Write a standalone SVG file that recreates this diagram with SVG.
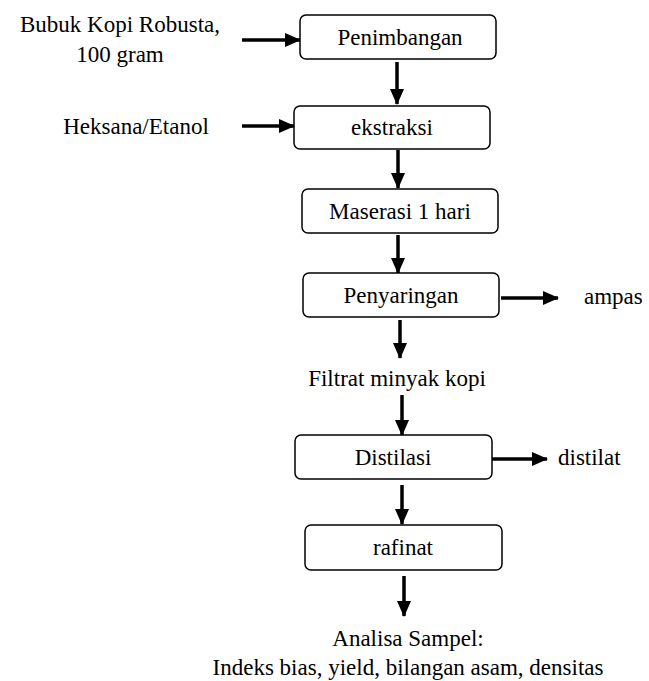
<svg xmlns="http://www.w3.org/2000/svg" width="649" height="681" viewBox="0 0 649 681" font-family="Liberation Serif, Times New Roman, serif">
<style>
.box{fill:#fff;stroke:#000;stroke-width:1.5}
text{font-family:"Liberation Serif","Times New Roman",serif;font-size:23px;fill:#000}
.m{text-anchor:middle}
.c{stroke:#000;stroke-width:3.5;fill:none;marker-end:url(#ah)}
</style>
<defs>
<marker id="ah" markerUnits="userSpaceOnUse" markerWidth="16" markerHeight="16" viewBox="0 0 16 16" refX="15" refY="8" orient="auto">
<path d="M0,1 L16,8 L0,15 Z" fill="#000"/>
</marker>
</defs>
<g id="connectors">
<line class="c" x1="242" y1="40" x2="300" y2="40"/>
<line class="c" x1="242" y1="126" x2="294" y2="126"/>
<line class="c" x1="397" y1="62" x2="397" y2="104"/>
<line class="c" x1="398" y1="150" x2="398" y2="188"/>
<line class="c" x1="398" y1="235" x2="398" y2="273"/>
<line class="c" x1="501" y1="298" x2="558" y2="298"/>
<line class="c" x1="400" y1="320" x2="400" y2="358"/>
<line class="c" x1="402" y1="395" x2="402" y2="435"/>
<line class="c" x1="488" y1="459" x2="547" y2="459"/>
<line class="c" x1="402" y1="485" x2="402" y2="524"/>
<line class="c" x1="404" y1="576" x2="404" y2="616"/>
</g>
<g id="input1"><text class="m" x="120" y="32" font-family="Liberation Serif">Bubuk Kopi Robusta,</text><text class="m" x="120" y="62" font-family="Liberation Serif">100 gram</text></g>
<g id="input2"><text class="m" x="136" y="134" font-family="Liberation Serif">Heksana/Etanol</text></g>
<g id="penimbangan"><rect class="box" x="300" y="15" width="196" height="44" rx="6"/><text class="m" x="400" y="45" font-family="Liberation Serif">Penimbangan</text></g>
<g id="ekstraksi"><rect class="box" x="294" y="106" width="196" height="43" rx="6"/><text class="m" x="392" y="135" font-family="Liberation Serif">ekstraksi</text></g>
<g id="maserasi"><rect class="box" x="302" y="189" width="196" height="44" rx="6"/><text class="m" x="400" y="219" font-family="Liberation Serif">Maserasi 1 hari</text></g>
<g id="penyaringan"><rect class="box" x="303" y="273" width="196" height="44" rx="6"/><text class="m" x="401" y="303" font-family="Liberation Serif">Penyaringan</text></g>
<g id="ampas"><text x="584" y="304" font-family="Liberation Serif">ampas</text></g>
<g id="filtrat"><text class="m" x="397" y="386" font-family="Liberation Serif">Filtrat minyak kopi</text></g>
<g id="distilasi"><rect class="box" x="295" y="435" width="197" height="44" rx="6"/><text class="m" x="393" y="465" font-family="Liberation Serif">Distilasi</text></g>
<g id="distilat"><text x="558" y="465" font-family="Liberation Serif">distilat</text></g>
<g id="rafinat"><rect class="box" x="305" y="525" width="197" height="45" rx="6"/><text class="m" x="403" y="555" font-family="Liberation Serif">rafinat</text></g>
<g id="analisa"><text class="m" x="408" y="646" font-family="Liberation Serif">Analisa Sampel:</text><text class="m" x="408" y="675" font-family="Liberation Serif">Indeks bias, yield, bilangan  asam, densitas</text></g>
</svg>
